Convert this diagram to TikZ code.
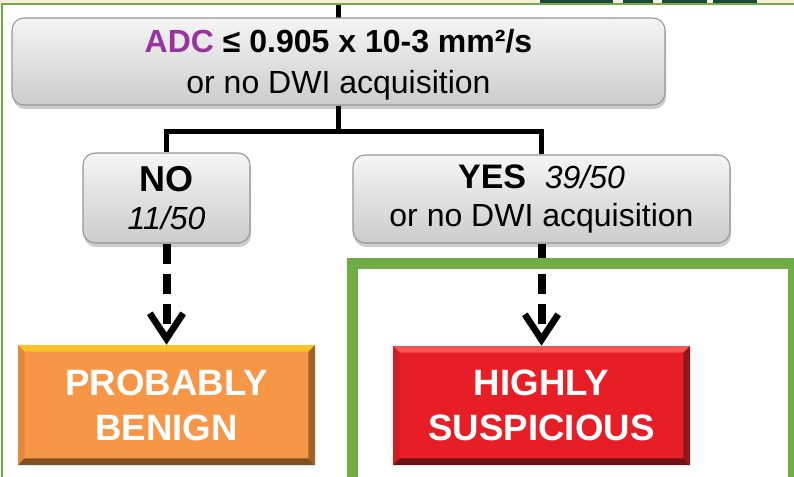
\documentclass[tikz,border=0pt]{standalone}
\usepackage{fontspec}
\setmainfont{Liberation Sans}
\usetikzlibrary{arrows.meta,shadows,calc}
\definecolor{adcpurple}{RGB}{152,52,158}
\definecolor{framegreen}{RGB}{112,173,71}
\definecolor{titlegreen}{RGB}{30,72,58}
\definecolor{cream}{RGB}{247,239,216}
\definecolor{boxedge}{RGB}{150,150,150}
\definecolor{benignorange}{RGB}{247,150,70}
\definecolor{benignlight}{RGB}{250,196,40}
\definecolor{benigndark}{RGB}{160,100,40}
\definecolor{suspred}{RGB}{232,30,38}
\definecolor{susplight}{RGB}{243,84,84}
\definecolor{suspdark}{RGB}{140,22,26}
\def\px{0.75pt}
\tikzset{
  graybox/.style={
    draw=boxedge, line width=0.8pt, rounded corners=9pt,
    top color=white!96!black, bottom color=white!80!black,
    drop shadow={shadow xshift=0.8pt, shadow yshift=-3pt, opacity=0.4},
    align=center, inner sep=0pt
  },
  bevelbox/.style n args={3}{
    fill=#1, inner sep=0pt, align=center, text=white,
    font=\fontsize{27.5pt}{33.75pt}\selectfont\bfseries,
    path picture={
      \path (path picture bounding box.north west) coordinate (bnw)
            (path picture bounding box.south east) coordinate (bse);
      \fill[#2] (bnw) -- (bnw -| bse) -- ++(-5pt,-5pt) -- ($(bnw)+(5pt,-5pt)$) -- cycle;
      \fill[#1!75!#3] (bnw) -- (bse -| bnw) -- ++(5pt,5pt) -- ($(bnw)+(5pt,-5pt)$) -- cycle;
      \fill[#3] (bse) -- (bse |- bnw) -- ++(-5pt,-5pt) -- ($(bse)+(-5pt,5pt)$) -- cycle;
      \fill[#3!80!black] (bse) -- (bse -| bnw) -- ++(5pt,5pt) -- ($(bse)+(-5pt,5pt)$) -- cycle;
    }
  },
  link/.style={line width=3.75pt, black},
  dashlink/.style={line width=6pt, black, dash pattern=on 15pt off 7.5pt,
    -{Straight Barb[length=19pt,width=25pt,line width=5pt]}}
}

\begin{document}
\begin{tikzpicture}[x=\px,y=-\px]
  \useasboundingbox (0,0) rectangle (794,476);
  \clip (0,0) rectangle (794,476);

  % cut-off title above the frame
  \fill[cream] (0,0) rectangle (794,4);
  \foreach \a/\b in {540/613,623/653,662/707,713/757}
    \fill[titlegreen] (\a,0) rectangle (\b,4);

  \coordinate (top) at (338.5,4);
  \coordinate (split) at (338.5,131);
  \draw[link] (top) -- (338.5,20);

  % question
  \node[graybox, minimum width=489.75pt, minimum height=65.25pt, text depth=0pt,
        font=\fontsize{24pt}{30.75pt}\selectfont] (adc) at (338.5,61.5)
    {{\bfseries\textcolor{adcpurple}{ADC} ≤ 0.905 x 10-3 mm²/s}\\or no DWI acquisition};

  % answers
  \node[graybox, minimum width=125.25pt, minimum height=67.5pt,
        font=\fontsize{24pt}{28.5pt}\selectfont] (no) at (166.5,198)
    {{\fontsize{27pt}{28.5pt}\selectfont\bfseries NO}\\\itshape 11/50};
  \node[graybox, minimum width=282.75pt, minimum height=66pt,
        font=\fontsize{24pt}{28.5pt}\selectfont] (yes) at (541.5,199)
    {{\fontsize{25.5pt}{28.5pt}\selectfont\bfseries YES}\hspace{14pt}{\itshape 39/50}\\or no DWI acquisition};

  % outcomes
  \node[bevelbox={benignorange}{benignlight}{benigndark},
        minimum width=222.75pt, minimum height=90pt] (benign) at (166.5,405)
    {PROBABLY\\BENIGN};
  \node[bevelbox={suspred}{susplight}{suspdark},
        minimum width=222.75pt, minimum height=89.25pt] (suspicious) at (541.5,405.5)
    {HIGHLY\\SUSPICIOUS};

  \draw[link] (adc.south) -- (split);
  \draw[link] (no.north) |- (split) -| (yes.north);
  \draw[dashlink] (no.south) -- (benign.north);
  \draw[dashlink] (yes.south) -- (suspicious.north);

  % frames
  \draw[framegreen, line width=1.5pt] (2,480) -- (2,4) -- (800,4);
  \draw[framegreen, line width=8.25pt] (352.5,263) rectangle (793.5,490);
\end{tikzpicture}
\end{document}
